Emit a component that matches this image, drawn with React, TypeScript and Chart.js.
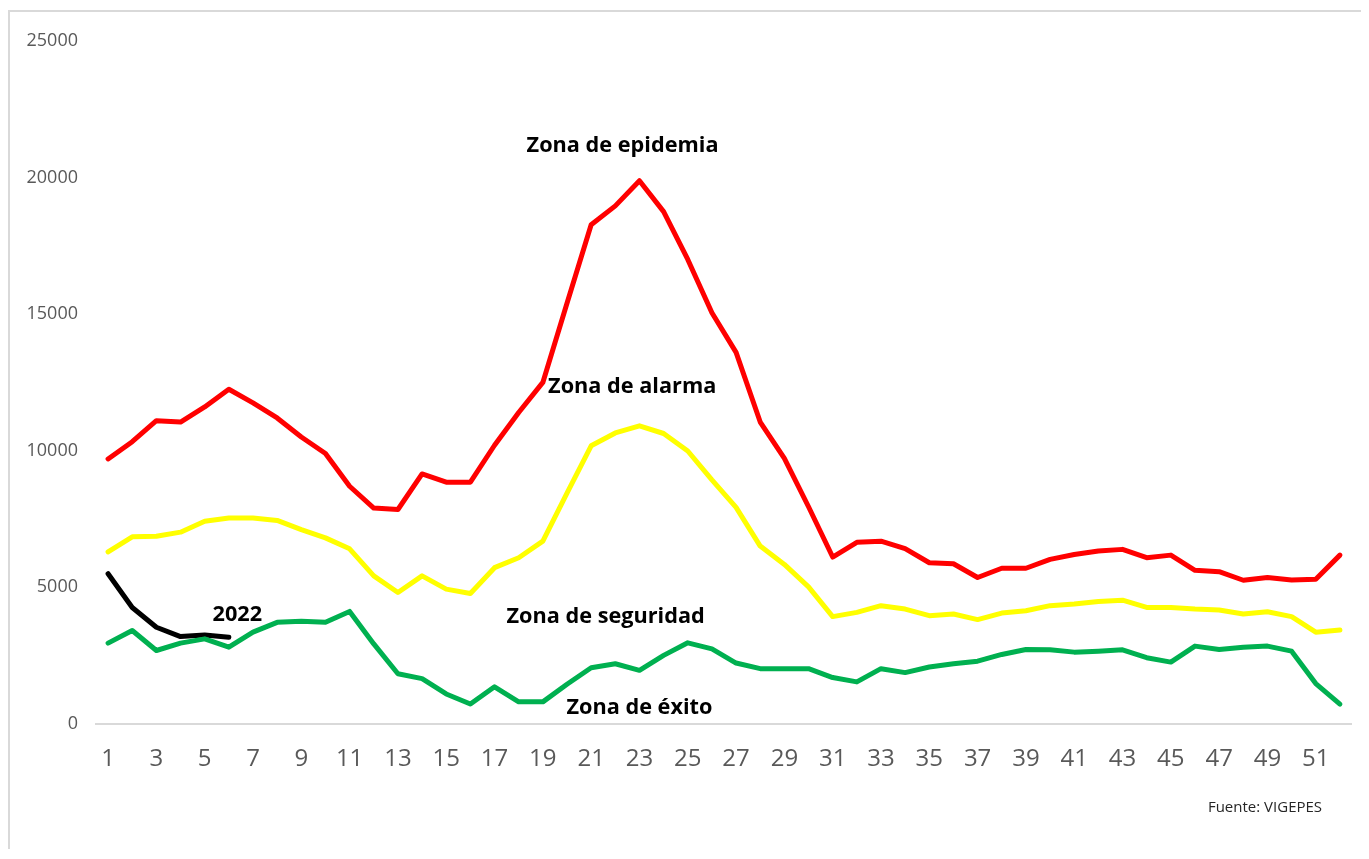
import React, { useEffect, useRef } from "react";
import { Chart, registerables } from "chart.js";

Chart.register(...registerables);

const weeks: string[] = Array.from({ length: 52 }, (_, i) => String(i + 1));

const epidemia: number[] = [
  9700, 10330, 11100, 11050, 11600, 12250, 11750, 11200, 10500, 9900,
  8700, 7900, 7850, 9150, 8850, 8850, 10200, 11400, 12500, 15400,
  18270, 18960, 19880, 18750, 17000, 15050, 13600, 11050, 9720, 7950,
  6110, 6650, 6690, 6420, 5900, 5865, 5360, 5700, 5700, 6025,
  6205, 6330, 6390, 6085, 6180, 5625, 5575, 5260, 5360, 5270,
  5300, 6180,
];

const alarma: number[] = [
  6300, 6850, 6870, 7020, 7420, 7540, 7540, 7450, 7115, 6810,
  6410, 5420, 4810, 5420, 4935, 4775, 5720, 6085, 6690, 8450,
  10180, 10650, 10910, 10630, 9990, 8930, 7925, 6510, 5840, 5020,
  3930, 4085, 4330, 4205, 3965, 4025, 3820, 4060, 4145, 4330,
  4390, 4485, 4530, 4265, 4265, 4205, 4170, 4025, 4110, 3930,
  3360, 3440,
];

const exito: number[] = [
  2960, 3420, 2690, 2960, 3115, 2810, 3360, 3720, 3760, 3720,
  4120, 2930, 1840, 1660, 1100, 730, 1360, 810, 810, 1455,
  2060, 2205, 1965, 2510, 2970, 2750, 2230, 2025, 2025, 2025,
  1700, 1540, 2025, 1880, 2085, 2205, 2300, 2545, 2725, 2715,
  2630, 2665, 2715, 2425, 2265, 2850, 2725, 2810, 2850, 2665,
  1480, 730,
];

const year2022: number[] = [5500, 4265, 3540, 3200, 3260, 3175];

const yTicks: number[] = [0, 5000, 10000, 15000, 20000, 25000];

// annotation labels: text, week position, value
const zoneLabels: string[] = ["Zona de epidemia", "Zona de alarma", "Zona de seguridad", "Zona de éxito", "2022"];
const zoneWeeks: number[] = [22.3, 22.7, 21.6, 23.0, 6.35];
const zoneValues: number[] = [21150, 12350, 3930, 580, 4000];
const sourceText = "Fuente: VIGEPES";

const FONT = "'Open Sans', 'DejaVu Sans', sans-serif";

export default function App() {
  const canvasRef = useRef<HTMLCanvasElement | null>(null);

  useEffect(() => {
    if (!canvasRef.current) return;

    const labelsPlugin = {
      id: "zoneLabels",
      afterDatasetsDraw(chart: any) {
        const { ctx, scales, chartArea } = chart;
        const xs = scales.x;
        const ys = scales.y;
        ctx.save();
        ctx.fillStyle = "#000000";
        ctx.textAlign = "center";
        ctx.textBaseline = "middle";
        ctx.font = `bold 21.7px ${FONT}`;
        zoneLabels.forEach((t, i) => {
          const px = xs.getPixelForValue(zoneWeeks[i] - 1);
          const py = ys.getPixelForValue(zoneValues[i]);
          ctx.fillText(t, px, py);
        });
        ctx.font = `15px ${FONT}`;
        ctx.fillStyle = "#262626";
        ctx.fillText(sourceText, chartArea.right - 87, chartArea.bottom + 84);
        ctx.restore();
      },
    };

    const chart = new Chart(canvasRef.current, {
      type: "line",
      data: {
        labels: weeks,
        datasets: [
          { label: "Zona de epidemia", data: epidemia, borderColor: "#FF0000" },
          { label: "Zona de alarma", data: alarma, borderColor: "#FFFF00" },
          { label: "Zona de éxito", data: exito, borderColor: "#00B050" },
          { label: "2022", data: year2022, borderColor: "#000000" },
        ].map((d) => ({
          ...d,
          borderWidth: 5,
          pointRadius: 0,
          tension: 0,
          fill: false,
          borderJoinStyle: "round" as const,
          borderCapStyle: "round" as const,
        })),
      },
      options: {
        animation: false,
        responsive: false,
        maintainAspectRatio: false,
        layout: { padding: { top: 24, right: 9, bottom: 0, left: 0 } },
        plugins: {
          legend: { display: false },
          tooltip: { enabled: false },
          title: { display: false },
        },
        scales: {
          x: {
            type: "category",
            offset: true,
            grid: { display: false, drawTicks: false },
            border: { display: true, color: "#d9d9d9", width: 2 },
            ticks: {
              autoSkip: false,
              maxRotation: 0,
              minRotation: 0,
              padding: 21,
              color: "#595959",
              font: { family: FONT, size: 24 },
              callback: (_v: any, i: number) => (i % 2 === 0 ? weeks[i] : ""),
            },
            afterFit: (scale: any) => {
              scale.height = 124;
            },
          },
          y: {
            min: 0,
            max: 25000,
            afterBuildTicks: (scale: any) => {
              scale.ticks = yTicks.map((v) => ({ value: v }));
            },
            grid: { display: false, drawTicks: false },
            border: { display: false },
            ticks: {
              padding: 18,
              color: "#595959",
              font: { family: FONT, size: 18 },
              callback: (v: any) => String(v),
            },
            afterFit: (scale: any) => {
              scale.width = 86;
            },
          },
        },
      },
      plugins: [labelsPlugin],
    });

    return () => chart.destroy();
  }, []);

  return (
    <div
      style={{
        position: "relative",
        top: 2,
        marginBottom: -8,
        borderLeft: "2px solid #d9d9d9",
        borderTop: "2px solid #d9d9d9",
        width: 1351,
        height: 847,
        background: "#ffffff",
      }}
    >
      <canvas ref={canvasRef} width={1351} height={836} style={{ display: "block" }} />
    </div>
  );
}
